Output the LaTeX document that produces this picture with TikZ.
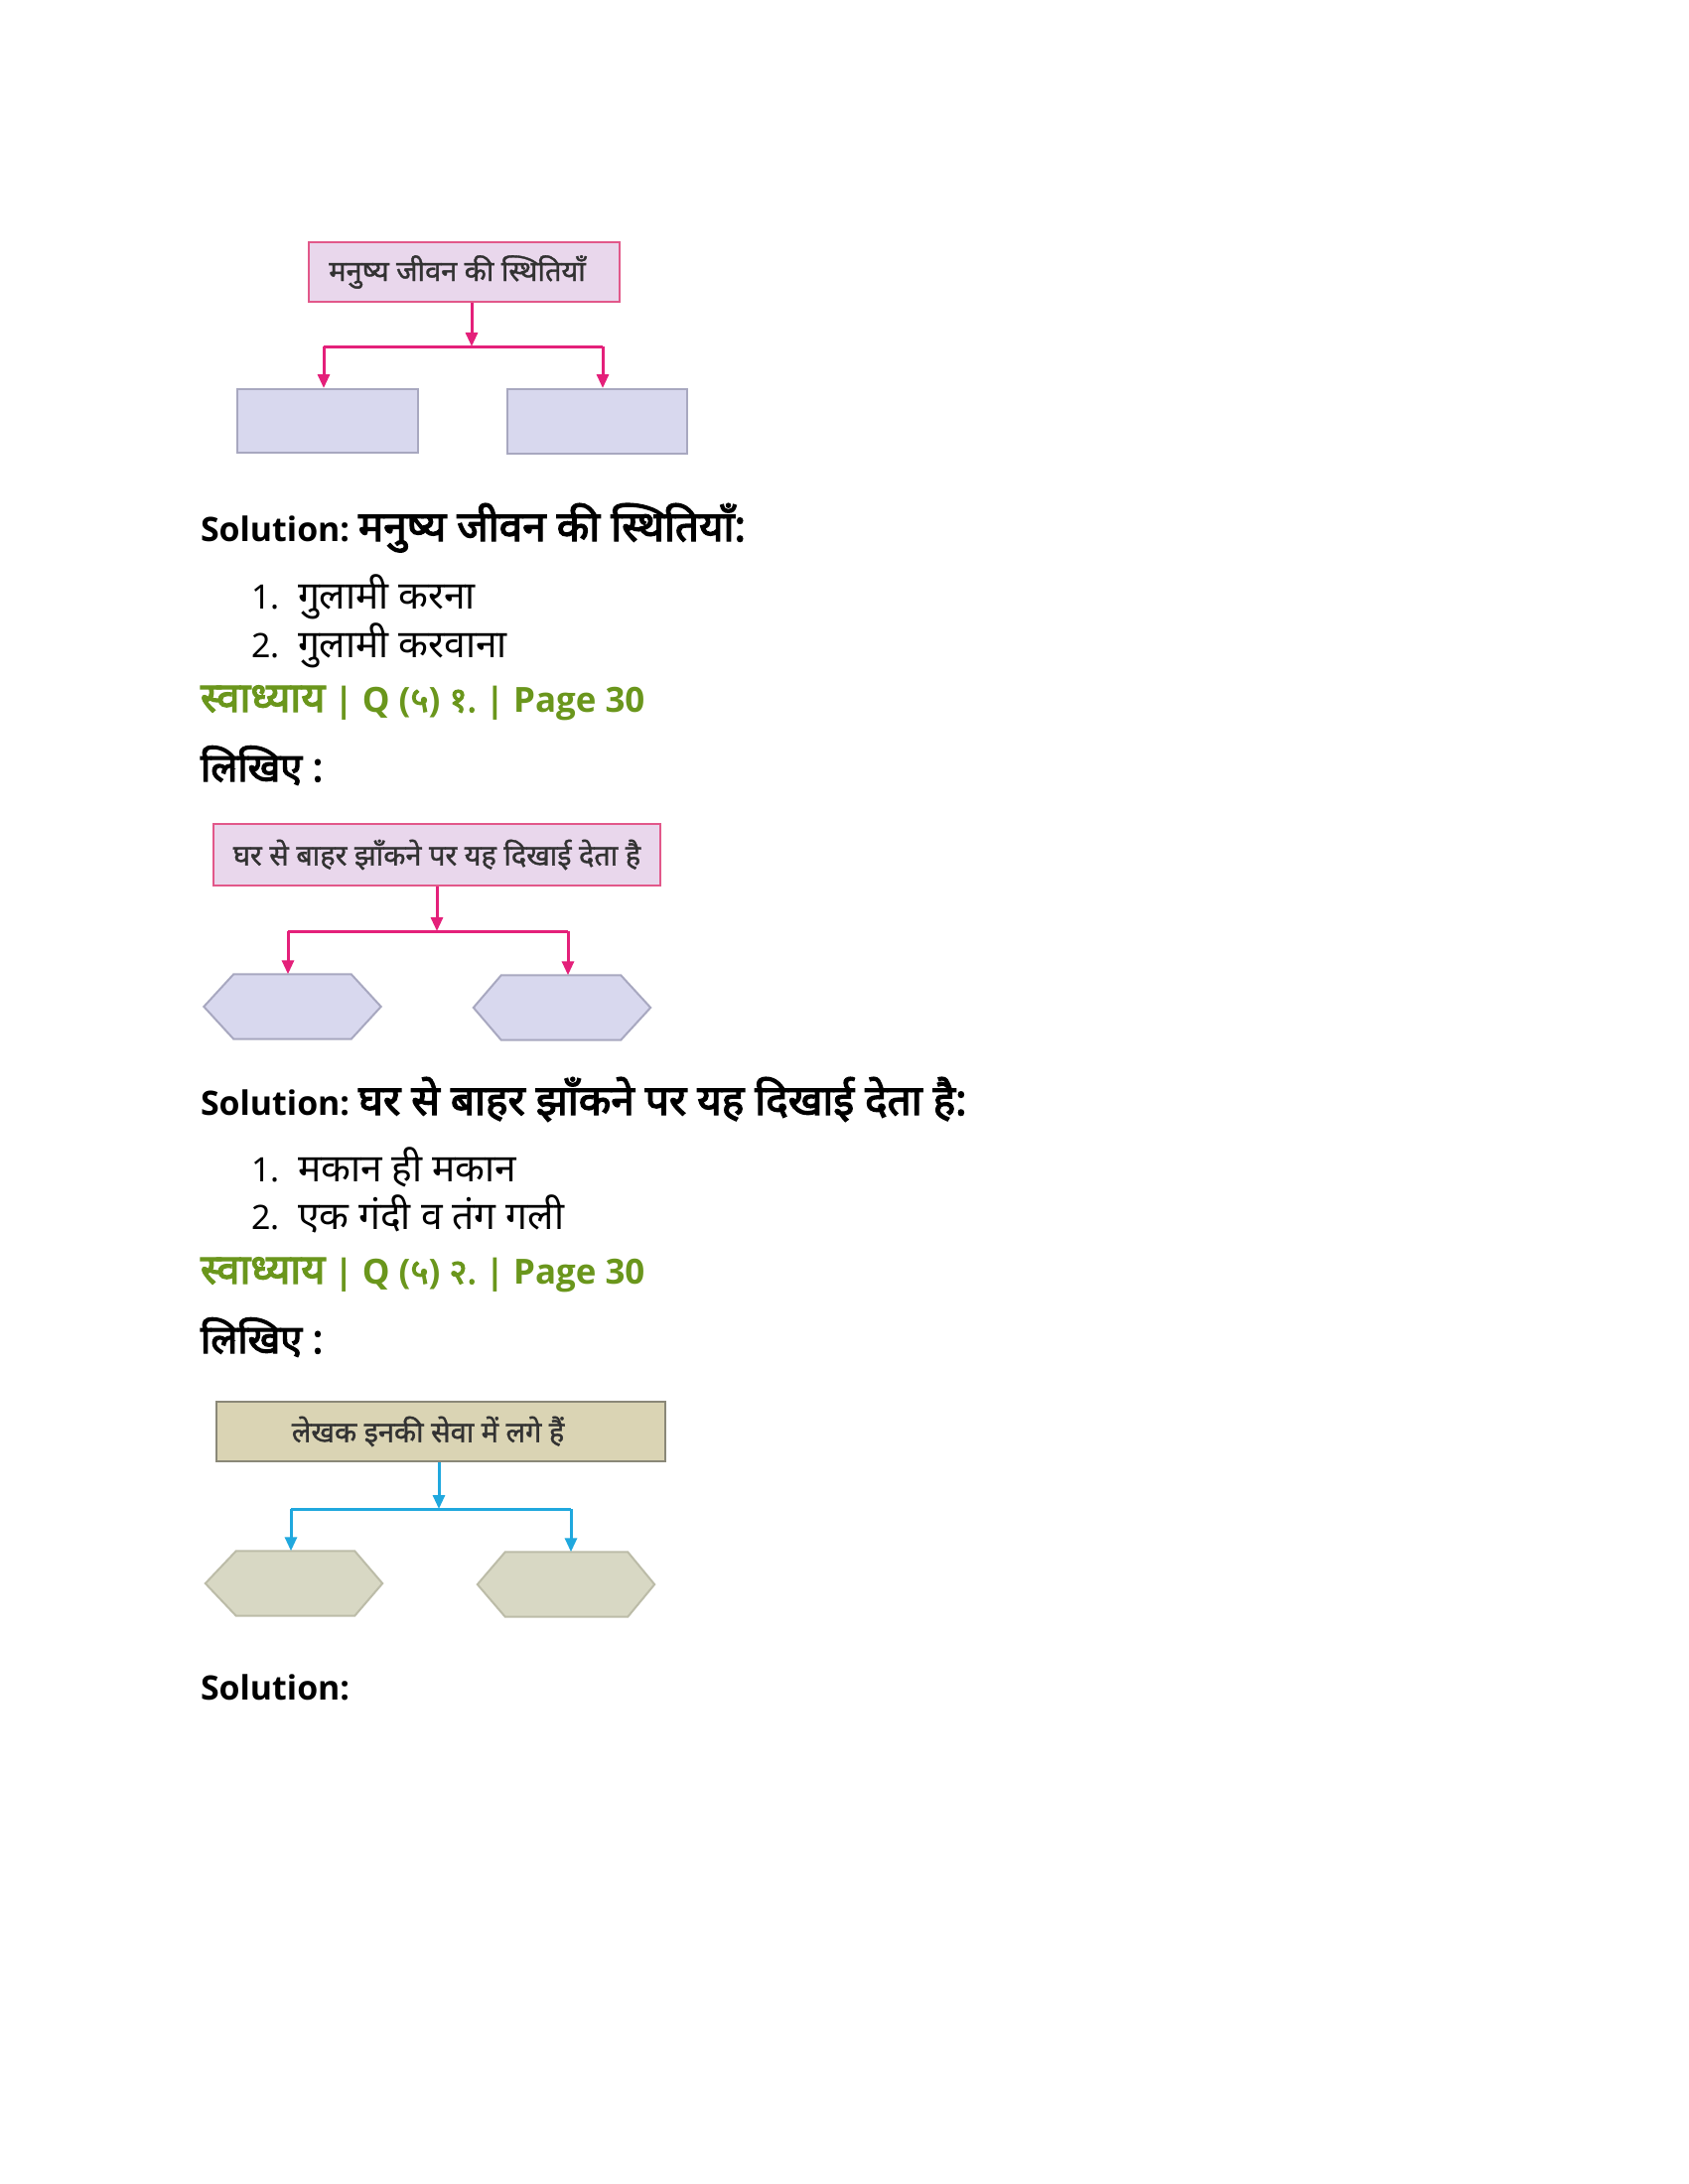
\documentclass[tikz,border=0pt]{standalone}
\usepackage{fontspec}
\setmainfont{Noto Sans}[Script=Devanagari]
\newfontfamily\devbold[Script=Devanagari,FakeBold=3]{Noto Sans}
\newfontfamily\devmid[Script=Devanagari,FakeBold=1.2]{Noto Sans}
\newfontfamily\latb{Open Sans}
\usetikzlibrary{arrows.meta}
\definecolor{pinkline}{RGB}{228,32,122}
\definecolor{pinkfill}{RGB}{233,215,236}
\definecolor{pinkborder}{RGB}{226,88,138}
\definecolor{lavfill}{RGB}{216,216,238}
\definecolor{lavborder}{RGB}{168,168,192}
\definecolor{tanfill}{RGB}{218,212,180}
\definecolor{tanborder}{RGB}{138,136,120}
\definecolor{khakifill}{RGB}{216,216,196}
\definecolor{khakiborder}{RGB}{188,188,168}
\definecolor{cyanline}{RGB}{32,168,222}
\definecolor{headgreen}{RGB}{106,150,28}
\definecolor{boxtext}{RGB}{50,50,50}
\newcommand{\latsz}{\fontsize{34}{40}\selectfont}
\newcommand{\greensz}{\fontsize{35}{40}\selectfont}
\newcommand{\devsz}{\fontsize{42.5}{46}\selectfont}
\newcommand{\listdev}{\fontsize{39}{44}\selectfont}
\newcommand{\greendev}{\fontsize{42}{46}\selectfont}
\newcommand{\LB}{\latb\bfseries}
\tikzset{
  txt/.style={anchor=base west,inner sep=0pt,outer sep=0pt},
  solfont/.style={font=\LB\latsz},
  listfont/.style={font=\fontsize{34}{40}\selectfont},
  greenfont/.style={font=\LB\greensz,text=headgreen},
  writefont/.style={font=\devbold\fontsize{40}{46}\selectfont},
  topbox/.style={draw=pinkborder,fill=pinkfill,line width=2bp,inner sep=0pt,
    text=boxtext,font=\devmid\fontsize{29}{34}\selectfont},
  tanbox/.style={draw=tanborder,fill=tanfill,line width=2bp,inner sep=0pt,
    text=boxtext,font=\devmid\fontsize{29}{34}\selectfont},
  emptybox/.style={draw=lavborder,fill=lavfill,line width=2bp,inner sep=0pt},
  hexspot/.style={draw=none,inner sep=0pt,minimum width=178bp,minimum height=65bp},
  pinkhex/.style={draw=lavborder,fill=lavfill,line width=2bp,line join=miter},
  tanhex/.style={draw=khakiborder,fill=khakifill,line width=2bp,line join=miter},
  pconn/.style={draw=pinkline,line width=3bp},
  cconn/.style={draw=cyanline,line width=3bp},
  ptip/.style={pconn,-{Triangle[width=12bp,length=14bp]}},
  ctip/.style={cconn,-{Triangle[width=12bp,length=14bp]}}
}
\begin{document}
\begin{tikzpicture}[x=1bp,y=-1bp]
\useasboundingbox[fill=white] (0,0) rectangle (1700,2200);

% ---------- Diagram 1 ----------
\node[topbox,minimum width=313bp,minimum height=60bp] (t1) at (467.5,274) {मनुष्य जीवन की स्थितियाँ\hspace*{14bp}};
\node[emptybox,minimum width=182bp,minimum height=64bp] (b1l) at (330,424) {};
\node[emptybox,minimum width=181bp,minimum height=65bp] (b1r) at (601.5,424.5) {};
\coordinate (j1) at (475,349);
\coordinate (j1l) at (326,349);
\coordinate (j1r) at (607,349);
\draw[ptip] (t1.south -| j1) -- (j1);
\draw[pconn] (j1l) -- (j1r);
\draw[ptip] (j1l) -- (j1l |- b1l.north);
\draw[ptip] (j1r) -- (j1r |- b1r.north);

\node[txt,solfont] (s1) at (202,545) {Solution:\ {\devbold\devsz मनुष्य जीवन की स्थितियाँ:}};
\node[txt,listfont] (n1a) at (253,613) {1.};
\node[txt,listfont] (i1a) at (300,613) {\listdev गुलामी करना};
\node[txt,listfont] (n1b) at (253,662) {2.};
\node[txt,listfont] (i1b) at (300,662) {\listdev गुलामी करवाना};
\node[txt,greenfont] (g1) at (202,717) {{\devbold\greendev स्वाध्याय}\ |\ Q\ ({\devbold ५})\ {\devbold १.}\ |\ Page 30};
\node[txt,writefont] (w1) at (202,787) {लिखिए :};

% ---------- Diagram 2 ----------
\node[topbox,minimum width=450bp,minimum height=62bp] (t2) at (440,861) {घर से बाहर झाँकने पर यह दिखाई देता है};
\node[hexspot] (h2l) at (294.5,1014) {};
\node[hexspot] (h2r) at (566,1015) {};
\filldraw[pinkhex] (h2l.west) -- ([xshift=30bp]h2l.north west) -- ([xshift=-30bp]h2l.north east)
  -- (h2l.east) -- ([xshift=-30bp]h2l.south east) -- ([xshift=30bp]h2l.south west) -- cycle;
\filldraw[pinkhex] (h2r.west) -- ([xshift=28bp]h2r.north west) -- ([xshift=-30bp]h2r.north east)
  -- (h2r.east) -- ([xshift=-30bp]h2r.south east) -- ([xshift=28bp]h2r.south west) -- cycle;
\coordinate (j2) at (440,938);
\coordinate (j2l) at (290,938);
\coordinate (j2r) at (572,938);
\draw[ptip] (t2.south -| j2) -- (j2);
\draw[pconn] (j2l) -- (j2r);
\draw[ptip] (j2l) -- (j2l |- h2l.north);
\draw[ptip] (j2r) -- (j2r |- h2r.north);

\node[txt,solfont] (s2) at (202,1123) {Solution:\ {\devbold\devsz घर से बाहर झाँकने पर यह दिखाई देता है:}};
\node[txt,listfont] (n2a) at (253,1190) {1.};
\node[txt,listfont] (i2a) at (300,1190) {\listdev मकान ही मकान};
\node[txt,listfont] (n2b) at (253,1238) {2.};
\node[txt,listfont] (i2b) at (300,1238) {\listdev एक गंदी व तंग गली};
\node[txt,greenfont] (g2) at (202,1293) {{\devbold\greendev स्वाध्याय}\ |\ Q\ ({\devbold ५})\ {\devbold २.}\ |\ Page 30};
\node[txt,writefont] (w2) at (202,1363) {लिखिए :};

% ---------- Diagram 3 ----------
\node[tanbox,minimum width=452bp,minimum height=60bp] (t3) at (444,1442) {लेखक इनकी सेवा में लगे हैं\hspace*{26bp}};
\node[hexspot] (h3l) at (296,1595) {};
\node[hexspot] (h3r) at (570,1596) {};
\filldraw[tanhex] (h3l.west) -- ([xshift=31bp]h3l.north west) -- ([xshift=-28bp]h3l.north east)
  -- (h3l.east) -- ([xshift=-28bp]h3l.south east) -- ([xshift=31bp]h3l.south west) -- cycle;
\filldraw[tanhex] (h3r.west) -- ([xshift=28bp]h3r.north west) -- ([xshift=-27bp]h3r.north east)
  -- (h3r.east) -- ([xshift=-27bp]h3r.south east) -- ([xshift=28bp]h3r.south west) -- cycle;
\coordinate (j3) at (442,1520);
\coordinate (j3l) at (293,1520);
\coordinate (j3r) at (575,1520);
\draw[ctip] (t3.south -| j3) -- (j3);
\draw[cconn] (j3l) -- (j3r);
\draw[ctip] (j3l) -- (j3l |- h3l.north);
\draw[ctip] (j3r) -- (j3r |- h3r.north);

\node[txt,solfont] (s3) at (202,1712) {Solution:};
\end{tikzpicture}
\end{document}
